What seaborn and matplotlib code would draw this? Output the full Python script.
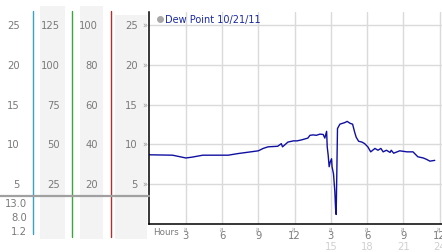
import numpy as np
import pandas as pd
import matplotlib
matplotlib.use("Agg")
import matplotlib.pyplot as plt
import matplotlib.transforms as mtrans
from matplotlib.patches import Rectangle
import seaborn as sns

sns.set_style("white")
plt.rcParams['font.family'] = ['DejaVu Sans']

# ---- data ----
hours = [0.0, 1.9, 3.0, 3.5, 4.4, 6.5, 7.3, 9.0, 9.4, 9.8, 10.6, 10.9, 11.0, 11.45, 11.9,
         12.2, 12.57, 13.1, 13.27, 13.54, 13.8, 14.1, 14.37, 14.5, 14.65, 14.7, 14.78,
         14.86, 14.95, 15.06, 15.1, 15.22, 15.33, 15.39, 15.44, 15.5, 15.55, 15.75,
         16.16, 16.35, 16.6, 16.8, 16.97, 17.1, 17.3, 17.57, 17.8, 18.06, 18.3, 18.65,
         18.9, 19.14, 19.33, 19.6, 19.9, 20.0, 20.2, 20.7, 21.3, 21.8, 22.2, 22.65,
         22.9, 23.2, 23.6]
dew_point = [8.7, 8.65, 8.3, 8.4, 8.65, 8.65, 8.85, 9.2, 9.5, 9.7, 9.77, 10.1, 9.7, 10.3, 10.45,
             10.45, 10.57, 10.8, 11.15, 11.2, 11.15, 11.3, 11.25, 10.8, 11.65, 9.7, 8.65,
             7.2, 7.8, 8.2, 7.2, 6.3, 4.1, 2.0, 1.2, 7.0, 12.0, 12.55,
             12.75, 12.9, 12.65, 12.55, 11.55, 10.9, 10.4, 10.3, 10.1, 9.7, 9.07, 9.5,
             9.27, 9.5, 9.07, 9.27, 9.0, 9.27, 8.9, 9.2, 9.07, 9.07, 8.45, 8.3,
             8.14, 7.9, 8.0]
series_label = "Dew Point 10/21/11"
col1_labels = [25, 20, 15, 10, 5]
col2_labels = [125, 100, 75, 50, 25]
col3_labels = [100, 80, 60, 40, 20]
col4_labels = [25, 20, 15, 10, 5]
stat_labels = ["13.0", "8.0", "1.2"]
x_ticks = [3, 6, 9, 12, 15, 18, 21, 24]
x_tick_labels = ["3", "6", "9", "12", "3", "6", "9", "12"]
x_second_ticks = [15, 18, 21, 24]
x_second_labels = ["15", "18", "21", "24"]

df = pd.DataFrame({"hour": hours, "dew": dew_point})

W, H = 442, 253
fig = plt.figure(figsize=(W / 100, H / 100), dpi=100)

# main axes
ax = fig.add_axes([149 / W, 1 - 225 / H, (W - 149) / W, (225 - 13) / H])
ax.set_zorder(1)
ax.set_xlim(-0.05, 24.2)
ax.set_ylim(0, 26.65)
sns.lineplot(data=df, x="hour", y="dew", ax=ax, color="#1010a0", lw=1.0,
             estimator=None, sort=False, legend=False)
ax.set_xticks(x_ticks)
ax.set_yticks(col4_labels)
ax.set_xticklabels([])
ax.set_yticklabels([])
ax.tick_params(length=0)
ax.grid(True, color="#dadada", lw=1.0)
ax.set_xlabel("")
ax.set_ylabel("")
for s in ["top", "right"]:
    ax.spines[s].set_visible(False)
for s in ["left", "bottom"]:
    ax.spines[s].set_color("black")
    ax.spines[s].set_linewidth(1.1)
ax.set_facecolor("white")

# decoration overlay axes in pixel coordinates (transparent, above main axes)
bg = fig.add_axes([0, 0, 1, 1])
bg.set_zorder(2)
bg.patch.set_visible(False)
bg.set_xlim(0, W)
bg.set_ylim(H, 0)
bg.axis("off")

panel_gray = "#f3f3f3"
for x0, x1, y0 in [(40, 65, 7), (80, 103, 7), (115, 147, 16)]:
    bg.add_patch(Rectangle((x0, y0), x1 - x0, 240 - y0, color=panel_gray, lw=0, zorder=0))
for x, c, y1 in [(33, "#3aa0c8", 235), (72, "#3aa63a", 238), (111, "#b03030", 238)]:
    bg.plot([x, x], [12, y1], color=c, lw=1.0, zorder=2)
bg.plot([0, 149], [197, 197], color="#a0a0a0", lw=1.6, zorder=3)

txt_gray = "#7a7a7a"
fs = 7.2

# y labels in left panel columns (pixel x, data y)
ty = mtrans.blended_transform_factory(bg.transData, ax.transData)
for labels, xr in [(col1_labels, 20), (col2_labels, 60), (col3_labels, 98), (col4_labels, 138)]:
    for v, lab in zip(col4_labels, labels):
        bg.text(xr, v, str(lab), transform=ty, ha="right", va="center",
                fontsize=fs, color=txt_gray)
for v in col4_labels:
    bg.text(145, v, "»", transform=ty, ha="center", va="center",
            fontsize=6, color="#999999")

for lab, yp in zip(stat_labels, [204, 218, 232]):
    bg.text(27, yp, lab, ha="right", va="center", fontsize=fs, color=txt_gray)

# x labels (data x, pixel y)
tx = mtrans.blended_transform_factory(ax.transData, bg.transData)
for xv, lab in zip(x_ticks, x_tick_labels):
    bg.text(xv, 236.5, lab, transform=tx, ha="center", va="center", fontsize=fs, color=txt_gray)
    bg.text(xv, 229.5, "≈", transform=tx, ha="center", va="center", fontsize=5,
            color="#999999", rotation=90)
for xv, lab in zip(x_second_ticks, x_second_labels):
    bg.text(xv, 247.5, lab, transform=tx, ha="center", va="center", fontsize=fs, color="#d0d0d0")
bg.text(153, 232.5, "Hours", ha="left", va="center", fontsize=6.3, color=txt_gray)

# legend
bg.scatter([160], [20], s=16, color="#a8a8a8", zorder=5)
bg.text(165, 20, series_label, ha="left", va="center", fontsize=7.0, color="#1a2aa0")

fig.savefig("out.png", dpi=100)
